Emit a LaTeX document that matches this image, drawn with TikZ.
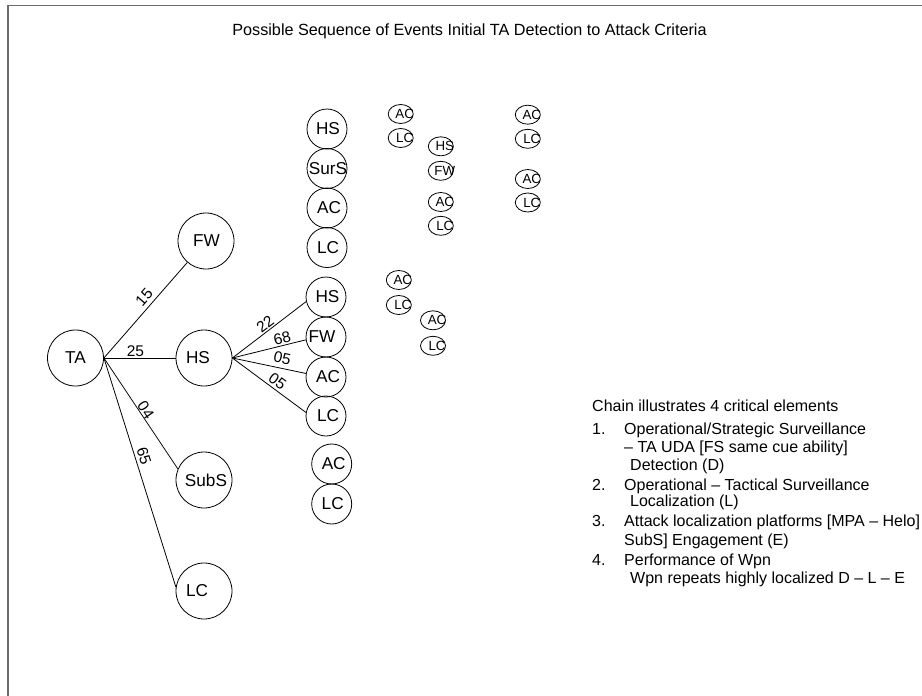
\documentclass[tikz,border=0pt]{standalone}
\usepackage{fontspec}
\setmainfont{Liberation Sans}
\usetikzlibrary{shapes.geometric}
\newcommand{\shx}[2]{\makebox[0pt]{\kern#1pt #2}}
\begin{document}
\begin{tikzpicture}[x=1pt,y=-1pt,
  big/.style={circle, draw, line width=0.8pt, minimum size=56pt, inner sep=0pt, font=\fontsize{17.2}{17.2}\selectfont},
  col/.style={circle, draw, line width=0.8pt, minimum size=40pt, inner sep=0pt, font=\fontsize{17.2}{17.2}\selectfont},
  sm/.style={ellipse, draw, line width=0.8pt, minimum width=25pt, minimum height=19pt, inner sep=0pt, font=\fontsize{13.3}{13.3}\selectfont},
  conn/.style={line width=0.8pt},
  elab/.style={font=\fontsize{15.5}{15.5}\selectfont, inner sep=1pt, sloped, above},
  txt/.style={anchor=base west, inner sep=0pt, font=\fontsize{16}{16}\selectfont},
  frame/.style={draw=black!58, line width=1.3pt}]
\useasboundingbox (0,0) rectangle (922,696);
\fill[white] (0,0) rectangle (922,696);
\draw[frame] (922,5.7) -- (8,5.7) -- (8,696);

\node[font=\fontsize{16.2}{16.2}\selectfont, inner sep=0pt] (title) at (469.5,31) {Possible Sequence of Events Initial TA Detection to Attack Criteria};

% main tree
\node[big] (TA) at (75.5,358) {\shx{0}{TA}};
\node[big] (FW) at (206,241) {\shx{1}{FW}};
\node[big] (HSa) at (204,358) {\shx{-12}{HS}};
\node[big] (SubS) at (204,480) {\shx{4}{SubS}};
\node[big] (LCa) at (204,591) {\shx{-14}{LC}};

% second column
\node[col] (HSb) at (326,297) {\shx{3}{HS}};
\node[col] (FWb) at (326,337) {\shx{-8}{FW}};
\node[col] (ACb) at (326,377) {\shx{4}{AC}};
\node[col] (LCb) at (326,416) {\shx{4}{LC}};
\node[col] (ACc) at (331.7,464) {\shx{4}{AC}};
\node[col] (LCc) at (331.7,504) {\shx{2}{LC}};

% top column
\node[col] (HSt) at (327,129) {\shx{2}{HS}};
\node[col] (SurS) at (327,168.5) {\shx{2}{SurS}};
\node[col] (ACt) at (327,208) {\shx{4}{AC}};
\node[col] (LCt) at (327,247.5) {\shx{2}{LC}};

% small ellipses
\node[sm] (s1) at (400.7,114) {\shx{8}{AC}};
\node[sm] (s2) at (400.7,138) {\shx{8}{LC}};
\node[sm] (s3) at (440.8,146.3) {\shx{8}{HS}};
\node[sm] (s4) at (440.8,170.8) {\shx{8}{FW}};
\node[sm] (s5) at (440.8,202) {\shx{8}{AC}};
\node[sm] (s6) at (440.8,225.8) {\shx{8}{LC}};
\node[sm] (s7) at (527.8,114.7) {\shx{8}{AC}};
\node[sm] (s8) at (527.8,138.8) {\shx{8}{LC}};
\node[sm] (s9) at (527.8,179) {\shx{8}{AC}};
\node[sm] (s10) at (527.8,202.5) {\shx{8}{LC}};
\node[sm] (s11) at (398.8,280) {\shx{8}{AC}};
\node[sm] (s12) at (398.8,305) {\shx{8}{LC}};
\node[sm] (s13) at (433,320.3) {\shx{8}{AC}};
\node[sm] (s14) at (433,345.8) {\shx{8}{LC}};

% connectors
\draw[conn] (TA.east) -- node[elab,pos=.57,above=3pt]{15} (FW);
\draw[conn] (TA.east) -- node[elab,pos=.44]{25} (HSa.west);
\draw[conn] (TA.east) -- node[elab,pos=.5,above=-1pt]{04} (SubS.157);
\draw[conn] (TA.east) -- node[elab,pos=.44,above=2pt]{65} (LCa.172);
\draw[conn] (HSa.east) -- node[elab,pos=.5]{22} (HSb.193);
\draw[conn] (HSa.east) -- node[elab,pos=.7]{68} (FWb.188);
\draw[conn] (HSa.east) -- node[elab,pos=.65,above=3.5pt]{05} (ACb.170);
\draw[conn] (HSa.east) -- node[elab,pos=.55,above=1pt]{05} (LCb.170);

% explanatory text
\node[txt] (c0) at (592,411.7) {Chain illustrates 4 critical elements};
\node[txt] (n1) at (592,434) {1.};
\node[txt] (t1) at (624,434) {Operational/Strategic Surveillance};
\node[txt] (t1b) at (624,452.4) {– TA UDA [FS same cue ability]};
\node[txt] (t1c) at (630,470.7) {Detection (D)};
\node[txt] (n2) at (592,490) {2.};
\node[txt] (t2) at (624,490) {Operational – Tactical Surveillance};
\node[txt] (t2b) at (630,506.7) {Localization (L)};
\node[txt] (n3) at (592,526.7) {3.};
\node[txt] (t3) at (624,526.7) {Attack localization platforms [MPA – Helo]};
\node[txt] (t3b) at (624,545.7) {SubS] Engagement (E)};
\node[txt] (n4) at (592,565.7) {4.};
\node[txt] (t4) at (624,565.7) {Performance of Wpn};
\node[txt] (t4b) at (630,583) {Wpn repeats highly localized D – L – E};
\end{tikzpicture}
\end{document}
